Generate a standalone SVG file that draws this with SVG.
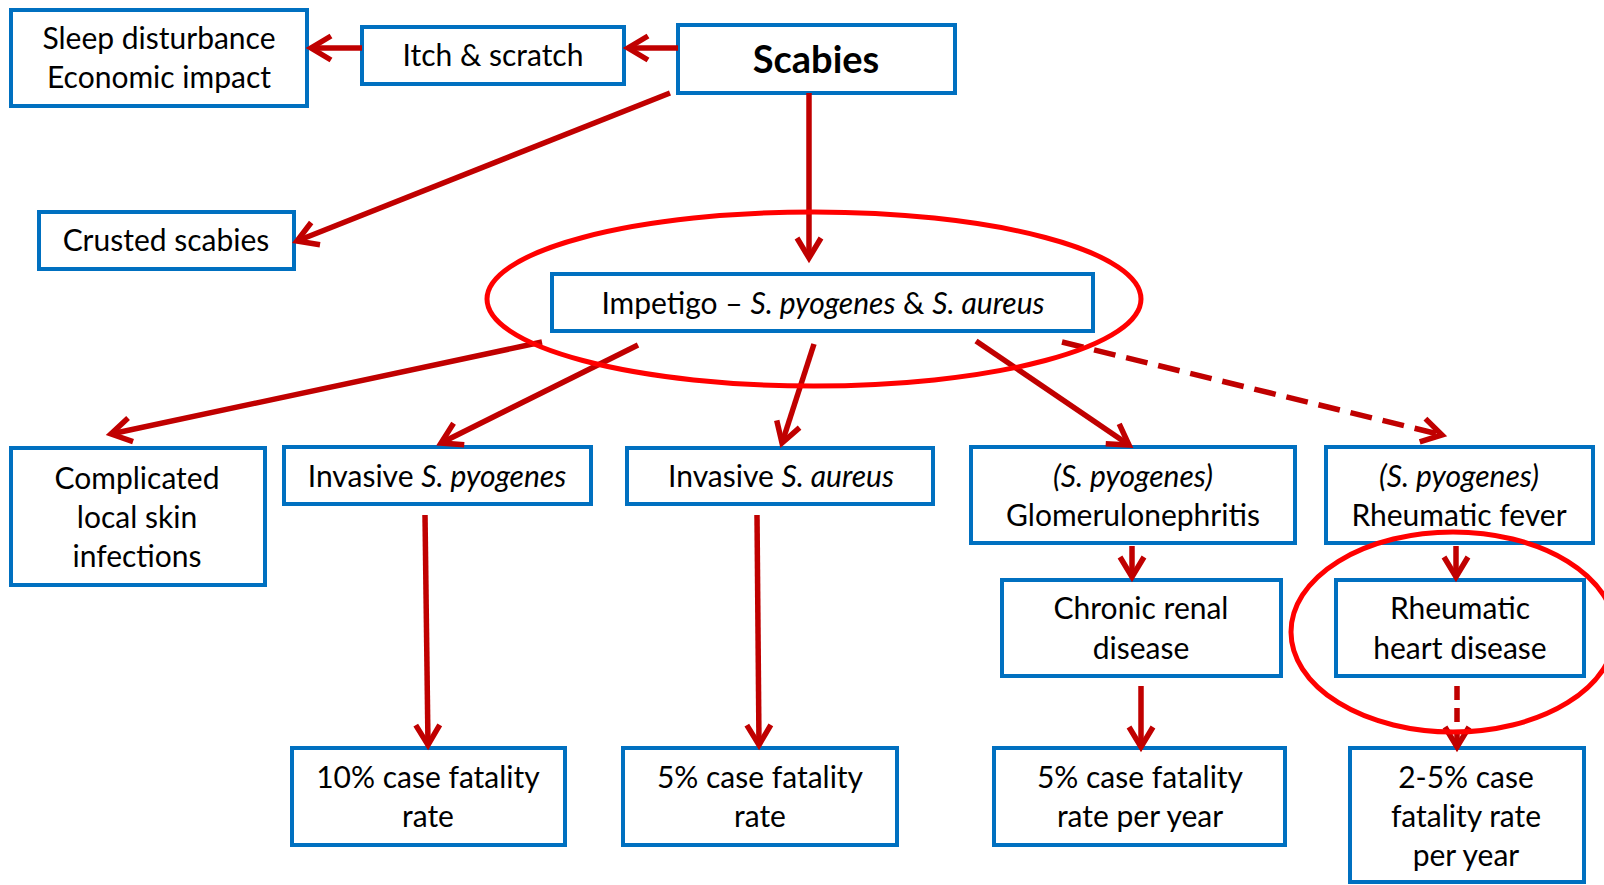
<svg xmlns="http://www.w3.org/2000/svg" width="1604" height="885" viewBox="0 0 1604 885">
<defs>
<style>
.box{fill:#fff;stroke:#0070C0;stroke-width:4}
.t{font-family:Lato,"Open Sans","Liberation Sans",sans-serif;font-size:30px;fill:#000;text-anchor:middle}
.b{font-weight:bold;font-size:38px}
.i{font-style:italic}
.c{stroke:#C00000;stroke-width:5.5;fill:none}
.d{stroke-dasharray:22 11}
.ring{fill:none;stroke:#FF0000;stroke-width:5}
</style>
<marker id="ah" viewBox="-28 -17 34 34" markerWidth="34" markerHeight="34" refX="0" refY="0" orient="auto" markerUnits="userSpaceOnUse">
<path d="M-20,-12 L0,0 L-20,12" fill="none" stroke="#C00000" stroke-width="5.5"/>
</marker>
</defs>
<rect width="1604" height="885" fill="#fff"/>

<g id="n-sleep"><rect class="box" x="11" y="10" width="296" height="96"/><text class="t" x="159" y="49">Sleep disturbance</text><text class="t" x="159" y="88">Economic impact</text></g>
<g id="n-itch"><rect class="box" x="362" y="27" width="262" height="57"/><text class="t" x="493" y="66">Itch &amp; scratch</text></g>
<g id="n-scabies"><rect class="box" x="678" y="25" width="277" height="68"/><text class="t b" x="816" y="73">Scabies</text></g>
<g id="n-crusted"><rect class="box" x="39" y="212" width="255" height="57"/><text class="t" x="166" y="251">Crusted scabies</text></g>
<g id="n-impetigo"><rect class="box" x="552" y="274" width="541" height="57"/><text class="t" x="823" y="314">Impetigo – <tspan class="i">S. pyogenes</tspan> &amp; <tspan class="i">S. aureus</tspan></text></g>
<g id="n-complicated"><rect class="box" x="11" y="448" width="254" height="137"/><text class="t" x="137" y="489">Complicated</text><text class="t" x="137" y="528">local skin</text><text class="t" x="137" y="567">infections</text></g>
<g id="n-invpyo"><rect class="box" x="284" y="447" width="307" height="57"/><text class="t" x="437" y="487">Invasive <tspan class="i">S. pyogenes</tspan></text></g>
<g id="n-invaur"><rect class="box" x="627" y="448" width="306" height="56"/><text class="t" x="781" y="487">Invasive <tspan class="i">S. aureus</tspan></text></g>
<g id="n-glom"><rect class="box" x="971" y="447" width="324" height="96"/><text class="t i" x="1133" y="487">(S. pyogenes)</text><text class="t" x="1133" y="526">Glomerulonephritis</text></g>
<g id="n-rf"><rect class="box" x="1326" y="447" width="267" height="96"/><text class="t i" x="1459" y="487">(S. pyogenes)</text><text class="t" x="1459" y="526">Rheumatic fever</text></g>
<g id="n-crd"><rect class="box" x="1002" y="580" width="279" height="96"/><text class="t" x="1141" y="619">Chronic renal</text><text class="t" x="1141" y="659">disease</text></g>
<g id="n-rhd"><rect class="box" x="1336" y="580" width="248" height="96"/><text class="t" x="1460" y="619">Rheumatic</text><text class="t" x="1460" y="659">heart disease</text></g>
<g id="n-f10"><rect class="box" x="292" y="748" width="273" height="97"/><text class="t" x="428" y="788">10% case fatality</text><text class="t" x="428" y="827">rate</text></g>
<g id="n-f5"><rect class="box" x="623" y="748" width="274" height="97"/><text class="t" x="760" y="788">5% case fatality</text><text class="t" x="760" y="827">rate</text></g>
<g id="n-f5y"><rect class="box" x="994" y="748" width="291" height="97"/><text class="t" x="1140" y="788">5% case fatality</text><text class="t" x="1140" y="827">rate per year</text></g>
<g id="n-f25"><rect class="box" x="1350" y="748" width="234" height="134"/><text class="t" x="1466" y="788">2-5% case</text><text class="t" x="1466" y="827">fatality rate</text><text class="t" x="1466" y="866">per year</text></g>

<g id="connectors">
<line class="c" x1="678" y1="48" x2="628" y2="48" marker-end="url(#ah)"/>
<line class="c" x1="362" y1="48" x2="311" y2="48" marker-end="url(#ah)"/>
<line class="c" x1="670" y1="93" x2="297" y2="241" marker-end="url(#ah)"/>
<line class="c" x1="809" y1="93" x2="809" y2="258" marker-end="url(#ah)"/>
<line class="c" x1="542" y1="342" x2="111" y2="434" marker-end="url(#ah)"/>
<line class="c" x1="638" y1="345" x2="441" y2="443" marker-end="url(#ah)"/>
<line class="c" x1="814" y1="344" x2="782" y2="443" marker-end="url(#ah)"/>
<line class="c" x1="976" y1="341" x2="1129" y2="445" marker-end="url(#ah)"/>
<line class="c d" x1="1062" y1="342" x2="1442" y2="435" stroke-width="6.5" marker-end="url(#ah)"/>
<line class="c" x1="425" y1="515" x2="428" y2="745" marker-end="url(#ah)"/>
<line class="c" x1="757" y1="515" x2="759" y2="745" marker-end="url(#ah)"/>
<line class="c" x1="1132" y1="546" x2="1132" y2="577" marker-end="url(#ah)"/>
<line class="c" x1="1456" y1="546" x2="1456" y2="577" marker-end="url(#ah)"/>
<line class="c" x1="1141" y1="686" x2="1141" y2="747" stroke-width="6" marker-end="url(#ah)"/>
<line class="c" x1="1457" y1="686" x2="1457" y2="747" stroke-dasharray="14 8" stroke-width="6" marker-end="url(#ah)"/>
</g>

<g id="highlights">
<ellipse class="ring" cx="814" cy="299" rx="327" ry="87"/>
<ellipse class="ring" cx="1453" cy="632" rx="162" ry="100"/>
</g>
</svg>
